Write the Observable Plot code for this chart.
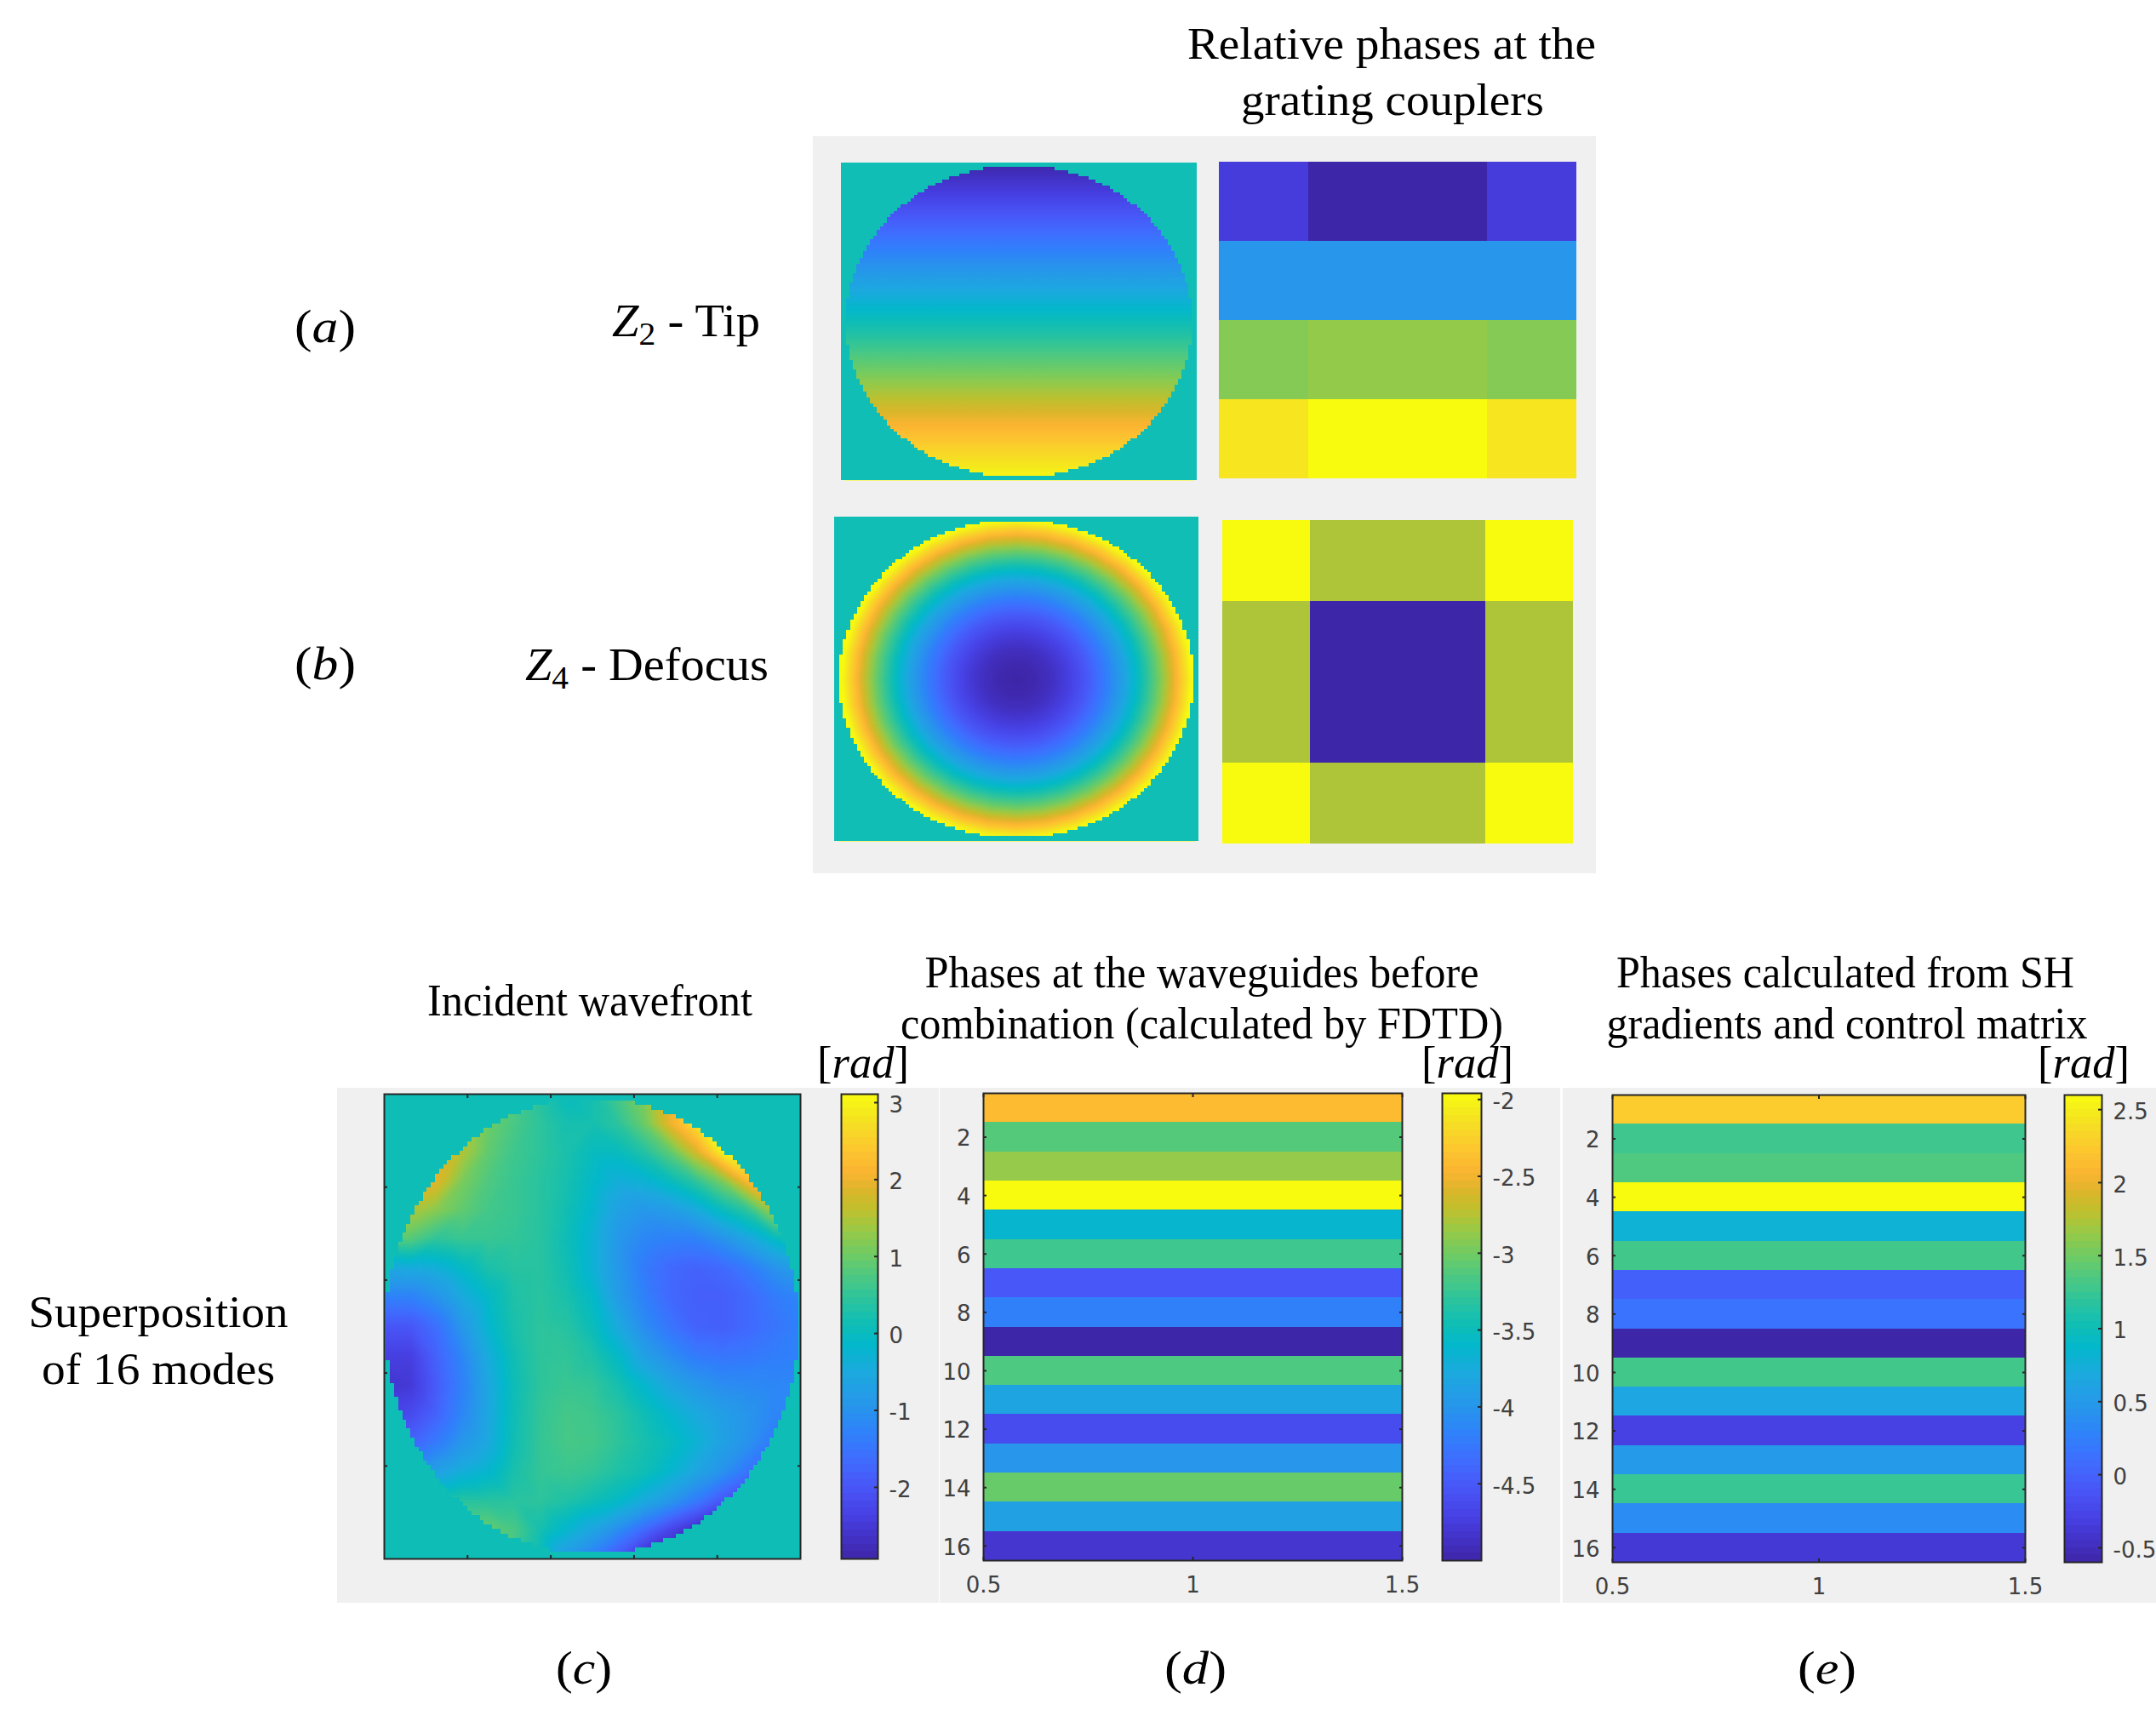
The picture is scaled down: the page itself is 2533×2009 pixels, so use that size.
<!DOCTYPE html>
<html>
<head>
<meta charset="utf-8">
<script src="https://cdn.jsdelivr.net/npm/d3@7"></script>
<script src="https://cdn.jsdelivr.net/npm/@observablehq/plot@0.6"></script>
<style>
html,body{margin:0;padding:0;background:#fff}
#page{position:relative;width:2533px;height:2009px;overflow:hidden;background:#fff}
.bg{position:absolute;background:#f0f0f0}
#page svg.plot, #page > svg{position:absolute;overflow:visible}
</style>
</head>
<body>
<div id="page"></div>
<script>
// Colormap
const parulaStops = [0,.05,.095,.16,.22,.27,.33,.40,.46,.50,.55,.60,.65,.70,.75,.79,.83,.88,.93,.97,1];
const parulaColors = ["#3e26a8","#4333c9","#4741e5","#4858f8","#3e6fff","#2f81fa","#2796eb","#1ca9df","#03b8cb","#0dbdb7","#27c3a1","#48c886","#6bcb66","#94ca4a","#bfc02e","#dbb62a","#fbb431","#fdc62f","#f6dc24","#f5ee1a","#f9fb0e"];

// Panel (a)/(b): relative phases at the grating couplers (normalised 0..1)
const tipCouplers = [[.08,0,0,.08],[.33,.33,.33,.33],[.68,.70,.70,.68],[.95,1,1,.95]];
const defocusCouplers = [[1,.73,.73,1],[.73,0,0,.73],[.73,0,0,.73],[1,.73,.73,1]];
const tipRowY = [-51,-40,-30,-20,-10,0,10,20,30,40,51];
const tipRowValue = [0,.10,.20,.30,.40,.50,.60,.70,.80,.90,1];
const defocusRadius = [0,.1,.2,.3,.4,.5,.6,.7,.8,.9,1,1.6];
const defocusValue = [0,.01,.04,.09,.16,.25,.36,.49,.64,.81,1,1];
const outsideValue = .505;

// Panel (c): incident wavefront in rad, read on a coarse grid
const waveAxis = [-51,-44.625,-38.25,-31.875,-25.5,-19.125,-12.75,-6.375,0,6.375,12.75,19.125,25.5,31.875,38.25,44.625,51];
const wavefront = [
[1.2,1.2,1.2,1.2,1.1,.9,.4,.0,.2,.7,1.2,2.0,2.8,3.1,3.1,3.1,3.1],
[1.6,1.6,1.6,1.3,1.0,.7,.45,.2,.2,.45,1.0,2.0,2.8,3.1,3.1,3.1,3.1],
[1.9,1.9,1.8,1.5,.9,.6,.45,.25,.0,.0,.35,.9,1.8,3.0,3.1,3.1,3.1],
[2.1,2.1,1.9,1.1,.75,.55,.4,.2,-.1,-.4,-.3,.0,.45,1.1,2.2,2.6,2.6],
[1.5,1.5,1.2,.9,.65,.55,.4,.15,-.2,-.7,-.9,-.8,-.5,.0,.45,1.5,1.5],
[1.0,.8,.45,.55,.55,.5,.4,.1,-.3,-.9,-1.2,-1.3,-1.3,-1.0,-.6,-.1,.2],
[-.6,-.5,-.4,-.1,.25,.4,.4,.15,-.3,-.9,-1.4,-1.7,-1.8,-1.7,-1.4,-1.0,-.7],
[-1.3,-1.3,-1.0,-.5,-.1,.3,.42,.25,-.1,-.8,-1.3,-1.7,-1.85,-1.85,-1.7,-1.4,-1.2],
[-2.0,-2.0,-1.6,-.9,-.2,.25,.45,.38,.05,-.5,-1.1,-1.5,-1.8,-1.85,-1.7,-1.5,-1.3],
[-2.4,-2.4,-1.8,-1.2,-.45,.15,.45,.48,.3,-.1,-.7,-1.1,-1.4,-1.5,-1.45,-1.35,-1.3],
[-2.6,-2.5,-1.9,-1.3,-.55,.1,.45,.55,.5,.2,-.2,-.6,-.9,-1.1,-1.15,-1.2,-1.2],
[-2.4,-2.2,-1.8,-1.2,-.55,.12,.5,.66,.6,.42,.12,-.2,-.5,-.75,-.95,-1.2,-1.3],
[-2.0,-1.8,-1.4,-.9,-.5,.15,.52,.68,.65,.45,.22,.0,-.3,-.7,-1.0,-1.5,-1.7],
[-1.0,-1.0,-.7,-.4,-.2,.25,.52,.58,.5,.3,.12,-.2,-.6,-1.0,-1.5,-2.2,-2.4],
[.4,.4,.4,.4,.4,.42,.45,.32,.12,-.1,-.5,-.9,-1.4,-2.0,-2.7,-2.9,-2.9],
[1.0,1.0,1.0,1.0,.95,.7,.2,-.2,-.6,-1.1,-1.7,-2.3,-2.8,-2.9,-2.9,-2.9,-2.9],
[1.0,1.0,1.0,1.0,1.0,.7,.0,-.9,-1.4,-2.1,-2.9,-2.9,-2.9,-2.9,-2.9,-2.9,-2.9]];
const waveDomain = [-2.93,3.11];
const waveOutside = 0.1;
const waveTicks = [-2,-1,0,1,2,3];

// Half-width of the pixelated disc per row, from the centre row outward
const discHalfWidths = [50,50,50,50,50,50,50,50,49,49,49,49,49,48,48,48,47,47,47,46,46,45,45,44,44,43,43,42,41,41,40,39,38,38,37,36,35,34,32,31,30,29,27,26,24,22,20,17,14,10,null,null];

// Panels (d)/(e): phase per waveguide
const fdtdPhases = [-2.42,-3.12,-2.87,-1.96,-3.63,-3.22,-4.51,-4.19,-5,-3.15,-3.84,-4.62,-4.0,-3.04,-3.88,-4.82];
const shPhases = [2.25,1.27,1.35,2.6,.78,1.29,-.02,.15,-.6,1.29,.65,-.31,.50,1.24,.36,-.38];
const fdtdDomain = [-5,-1.96];
const shDomain = [-.6,2.6];
const fdtdTicks = [-4.5,-4,-3.5,-3,-2.5,-2];
const shTicks = [-.5,0,.5,1,1.5,2,2.5];
const waveguideTicks = [2,4,6,8,10,12,14,16];
const spanTicks = [.5,1,1.5];

const page = document.getElementById("page");
const tickFont = {fontFamily:"'DejaVu Sans',sans-serif",fontSize:"26px",background:"transparent"};
const ink = "#262626", label = "#404040";

function bg(l,t,r,b){const d=document.createElement("div");d.className="bg";
  d.style.cssText=`left:${l}px;top:${t}px;width:${r-l}px;height:${b-t}px`;page.appendChild(d);}
bg(955,160,1875,1026); bg(396,1278,1103,1883); bg(1104,1278,1833,1883); bg(1836,1278,2533,1883);

function place(svg,left,top){svg.style.left=left+"px";svg.style.top=top+"px";page.appendChild(svg);}
function colorScale(domain){
  const [a,b]=domain;
  return {type:"linear",domain:parulaStops.map(t=>a+t*(b-a)),range:parulaColors,clamp:true};
}
function maskRows(value){
  const rows=[];
  d3.range(-52,53).forEach(y=>{
    const w=discHalfWidths[Math.abs(y)];
    if(w==null){rows.push({y,x1:-53,x2:53,v:value});}
    else{rows.push({y,x1:-53,x2:-w-.5,v:value});rows.push({y,x1:w+.5,x2:53,v:value});}
  });
  return rows;
}
function disc(points,domain,outside,box,xExtent,extras=[]){
  const [l,t,r,b]=box;
  place(Plot.plot({width:r-l,height:b-t,margin:0,style:tickFont,
    x:{domain:[-xExtent,xExtent],axis:null},y:{domain:[-51,51],reverse:true,axis:null},
    color:colorScale(domain),
    marks:[
      Plot.raster(points,{x:"x",y:"y",fill:"v",interpolate:"barycentric",x1:-51,x2:51,y1:-51,y2:51,width:102,height:102}),
      Plot.rect(maskRows(outside),{x1:"x1",x2:"x2",y1:d=>d.y-.5,y2:d=>d.y+.5,fill:"v",shapeRendering:"crispEdges",clip:true}),
      ...extras
    ]}),l,t);
}
function couplers(matrix,box){
  const [l,t,r,b]=box;
  const cells=matrix.flatMap((row,j)=>row.map((v,i)=>({i,j,v})));
  place(Plot.plot({width:r-l,height:b-t,margin:0,style:tickFont,
    x:{type:"band",domain:[0,1,2,3],padding:0,axis:null},y:{type:"band",domain:[0,1,2,3],padding:0,axis:null},
    color:colorScale([0,1]),
    marks:[Plot.cell(cells,{x:"i",y:"j",fill:"v",shapeRendering:"crispEdges"})]}),l,t);
}
function colorbar(domain,ticks,box){
  const [l,t,r,b]=box, marginRight=70, marginTop=12, marginBottom=4;
  const n=64, levels=d3.range(n).map(i=>({y1:domain[0]+(domain[1]-domain[0])*i/n,y2:domain[0]+(domain[1]-domain[0])*(i+1)/n}));
  place(Plot.plot({width:r-l+marginRight+2,height:b-t+marginTop+marginBottom,marginLeft:2,marginRight,marginTop,marginBottom,style:tickFont,
    x:{domain:[0,1],axis:null},y:{domain,axis:null},color:colorScale(domain),
    marks:[
      Plot.rect(levels,{x1:0,x2:1,y1:"y1",y2:"y2",fill:d=>(d.y1+d.y2)/2,shapeRendering:"crispEdges"}),
      Plot.axisY(ticks,{anchor:"right",tickSize:-5,stroke:ink,strokeWidth:2,fill:"none",label:null}),
      Plot.axisY(ticks,{anchor:"right",tickSize:0,tickPadding:13,dy:3,fill:label,label:null,tickFormat:d=>String(d)}),
      Plot.frame({stroke:ink,strokeWidth:2})
    ]}),l-2,t-marginTop);
}
function stripes(values,domain,box){
  const [l,t,r,b]=box, marginLeft=50, marginBottom=60, marginTop=4, marginRight=4;
  const rows=values.map((v,i)=>({i:i+1,v}));
  place(Plot.plot({width:r-l+marginLeft+marginRight,height:b-t+marginTop+marginBottom,marginLeft,marginRight,marginTop,marginBottom,style:tickFont,
    x:{domain:[.5,1.5],axis:null},y:{domain:[.5,16.5],reverse:true,axis:null},color:colorScale(domain),
    marks:[
      Plot.rect(rows,{x1:.5,x2:1.5,y1:d=>d.i-.5,y2:d=>d.i+.5,fill:"v",shapeRendering:"crispEdges"}),
      Plot.axisX(spanTicks,{anchor:"bottom",tickSize:-4,stroke:ink,strokeWidth:2,fill:"none",label:null}),
      Plot.axisX(spanTicks,{anchor:"top",tickSize:-4,stroke:ink,strokeWidth:2,fill:"none",label:null}),
      Plot.axisY(waveguideTicks,{anchor:"left",tickSize:-4,stroke:ink,strokeWidth:2,fill:"none",label:null}),
      Plot.axisY(waveguideTicks,{anchor:"right",tickSize:-4,stroke:ink,strokeWidth:2,fill:"none",label:null}),
      Plot.axisX(spanTicks,{anchor:"bottom",tickSize:0,tickPadding:19,fill:label,label:null,tickFormat:d=>String(d)}),
      Plot.axisY(waveguideTicks,{anchor:"left",tickSize:0,tickPadding:15,dy:2,fill:label,label:null,tickFormat:d=>String(d)}),
      Plot.frame({stroke:ink,strokeWidth:2})
    ]}),l-marginLeft,t-marginTop);
}

// Panel (a)
const tipPoints=tipRowY.flatMap((y,k)=>[-51,51].map(x=>({x,y,v:tipRowValue[k]})));
disc(tipPoints,[0,1],outsideValue,[988,191,1406,564],52);
couplers(tipCouplers,[1432,189,1852,563]);
// Panel (b)
const defocusPoints=defocusRadius.flatMap((r,k)=>d3.range(0,360,10).map(a=>({
  x:r*50*Math.cos(a*Math.PI/180),y:r*50*Math.sin(a*Math.PI/180),v:defocusValue[k]})));
disc(defocusPoints,[0,1],outsideValue,[980,607,1408,988],52);
couplers(defocusCouplers,[1435,609,1848,992]);
// Panel (c)
const wavePoints=wavefront.flatMap((row,j)=>row.map((v,i)=>({x:waveAxis[i],y:waveAxis[j],v})));
const cFrameTicks=[-30.6,-10.2,10.2,30.6];
disc(wavePoints,waveDomain,waveOutside,[451,1285,940,1831],51,[
  Plot.axisX(cFrameTicks,{anchor:"top",tickSize:-4,stroke:ink,strokeWidth:2,fill:"none",label:null}),
  Plot.axisX(cFrameTicks,{anchor:"bottom",tickSize:-4,stroke:ink,strokeWidth:2,fill:"none",label:null}),
  Plot.axisY(cFrameTicks,{anchor:"left",tickSize:-4,stroke:ink,strokeWidth:2,fill:"none",label:null}),
  Plot.axisY(cFrameTicks,{anchor:"right",tickSize:-4,stroke:ink,strokeWidth:2,fill:"none",label:null}),
  Plot.frame({stroke:ink,strokeWidth:2})
]);
colorbar(waveDomain,waveTicks,[988,1285,1031,1831]);
// Panel (d)
stripes(fdtdPhases,fdtdDomain,[1155,1284,1647,1833]);
colorbar(fdtdDomain,fdtdTicks,[1694,1284,1740,1833]);
// Panel (e)
stripes(shPhases,shDomain,[1894,1286,2379,1835]);
colorbar(shDomain,shTicks,[2425,1286,2469,1835]);

// Serif annotations
const annotations=[
 {t:"Relative phases at the",x:1635,y:69,w:480},
 {t:"grating couplers",x:1636,y:135,w:356},
 {t:"Incident wavefront",x:693,y:1193,w:382},
 {t:"Phases at the waveguides before",x:1412,y:1160,w:651},
 {t:"combination (calculated by FDTD)",x:1412,y:1220,w:708},
 {t:"Phases calculated from SH",x:2168,y:1160,w:538},
 {t:"gradients and control matrix",x:2170,y:1220,w:565},
 {t:"Superposition",x:186,y:1559,w:305},
 {t:"of 16 modes",x:186,y:1626,w:274}
];
const overlay=d3.select(page).append("svg").attr("width",2533).attr("height",2009).style("left","0px").style("top","0px")
  .style("font-family","'Liberation Serif',serif").style("fill","#000");
overlay.selectAll("text.a").data(annotations).join("text").attr("class","a")
  .attr("x",d=>d.x).attr("y",d=>d.y).attr("text-anchor","middle").attr("font-size",52)
  .attr("textLength",d=>d.w).attr("lengthAdjust","spacingAndGlyphs").text(d=>d.t);
function rich(parts,x,y,w,size=54){
  const t=overlay.append("text").attr("x",x).attr("y",y).attr("font-size",size)
    .attr("textLength",w).attr("lengthAdjust","spacingAndGlyphs");
  parts.forEach(p=>{const s=t.append("tspan").text(p.t);
    if(p.i)s.attr("font-style","italic");
    if(p.sub){s.attr("font-size",size*.7).attr("dy",10);}
    if(p.up){s.attr("dy",-10);}
  });
  return t;
}
rich([{t:"("},{t:"a",i:1},{t:")"}],346,402,72);
rich([{t:"("},{t:"b",i:1},{t:")"}],346,798,72);
rich([{t:"("},{t:"c",i:1},{t:")"}],653,1978,66);
rich([{t:"("},{t:"d",i:1},{t:")"}],1368,1978,73);
rich([{t:"("},{t:"e",i:1},{t:")"}],2112,1978,69);
rich([{t:"Z",i:1},{t:"2",sub:1},{t:" - Tip",up:1}],719,395,174);
rich([{t:"Z",i:1},{t:"4",sub:1},{t:" - Defocus",up:1}],617,799,286);
[960,1670,2394].forEach(x=>rich([{t:"["},{t:"rad",i:1},{t:"]"}],x,1266,108,52));
</script>
</body>
</html>
